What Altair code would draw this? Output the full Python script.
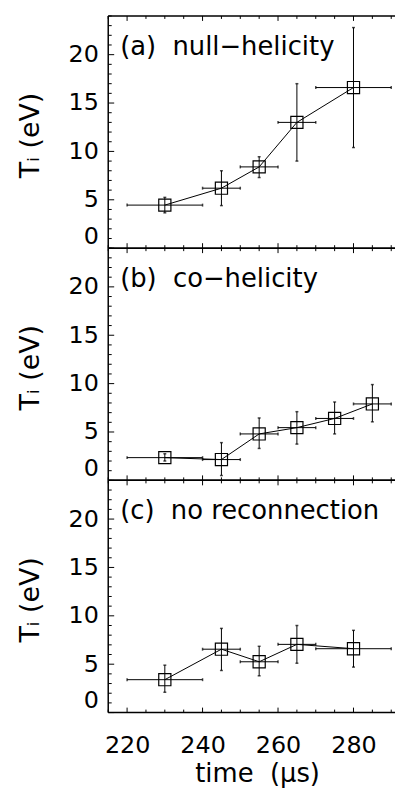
import altair as alt
import pandas as pd

# ---------------- data ----------------
panel_labels = ["(a)\u00a0\u00a0null\u2212helicity", "(b)\u00a0\u00a0co\u2212helicity",
                "(c)\u00a0\u00a0no\u00a0reconnection"]

a_t = [230, 245, 255, 265, 280]
a_T = [4.45, 6.2, 8.4, 13.0, 16.6]
a_lo = [3.65, 4.4, 7.3, 9.0, 10.4]
a_hi = [5.25, 8.0, 9.45, 17.0, 22.8]
a_t0 = [220, 240, 250, 260, 270]
a_t1 = [240, 250, 260, 270, 290]

b_t = [230, 245, 255, 265, 275, 285]
b_T = [2.35, 2.15, 4.8, 5.45, 6.4, 7.9]
b_lo = [2.0, 0.5, 3.3, 3.75, 4.8, 6.05]
b_hi = [2.75, 3.9, 6.45, 7.1, 8.1, 9.9]
b_t0 = [220, 240, 250, 260, 270, 280]
b_t1 = [240, 250, 260, 270, 280, 290]

c_t = [230, 245, 255, 265, 280]
c_T = [3.4, 6.55, 5.25, 7.05, 6.6]
c_lo = [2.1, 4.35, 3.8, 5.1, 4.7]
c_hi = [4.9, 8.7, 6.85, 9.0, 8.5]
c_t0 = [220, 240, 250, 260, 270]
c_t1 = [240, 250, 260, 270, 290]

y_major = [0, 5, 10, 15, 20]
y_minor = [v for v in range(0, 25) if v not in y_major]
x_major = [220, 240, 260, 280]
x_minor = [215, 225, 230, 235, 245, 250, 255, 265, 270, 275, 285, 290]

x_title = "time\u00a0\u00a0(\u03bcs)"
y_title = "T\u1d62\u00a0(eV)"

# ---------------- style ----------------
W, H = 289, 234
XDOM = [215, 291]
YDOM = [0, 24]
FONT = "DejaVu Sans"
BLACK = "black"


def make_panel(t, T, lo, hi, t0, t1, label, bottom):
    df = pd.DataFrame(dict(t=t, T=T, lo=lo, hi=hi, t0=t0, t1=t1))
    xs = alt.Scale(domain=XDOM, nice=False, zero=False)
    ys = alt.Scale(domain=YDOM, nice=False, zero=False)
    if bottom:
        xaxis = alt.Axis(values=x_major, format="d", ticks=False, domain=False, grid=False,
                         labelFontSize=24, labelPadding=21, labelColor=BLACK,
                         title=x_title, titleFontSize=26, titleFontWeight="normal",
                         titleColor=BLACK, titleX=150, titleY=69,
                         titleAlign="center", titleBaseline="alphabetic")
    else:
        xaxis = None
    yaxis = alt.Axis(values=y_major, ticks=False, domain=False, grid=False,
                     labelFontSize=24, labelPadding=10, labelColor=BLACK,
                     labelBaseline={"condition": {"test": "datum.value == 0", "value": "bottom"},
                                    "value": "middle"},
                     title=y_title, titleFontSize=27, titleFontWeight="normal",
                     titleColor=BLACK, titleAngle=270, titleX=-78, titleY=120,
                     titleAlign="center", titleBaseline="middle")

    def X(f):
        return alt.X(f, type="quantitative", scale=xs, axis=xaxis)

    def Y(f):
        return alt.Y(f, type="quantitative", scale=ys, axis=yaxis)

    base = alt.Chart(df)
    line = base.mark_line(color=BLACK, strokeWidth=1).encode(x=X("t"), y=Y("T"))
    xerr = base.mark_rule(color=BLACK, strokeWidth=1).encode(x=X("t0"), x2="t1", y=Y("T"))
    yerr = base.mark_rule(color=BLACK, strokeWidth=1).encode(x=X("t"), y=Y("lo"), y2="hi")
    cap_lo = base.mark_tick(color=BLACK, orient="horizontal", size=3, thickness=1.5).encode(x=X("t"), y=Y("lo"))
    cap_hi = base.mark_tick(color=BLACK, orient="horizontal", size=3, thickness=1.5).encode(x=X("t"), y=Y("hi"))
    cap_l = base.mark_tick(color=BLACK, orient="vertical", size=3, thickness=1.5).encode(x=X("t0"), y=Y("T"))
    cap_r = base.mark_tick(color=BLACK, orient="vertical", size=3, thickness=1.5).encode(x=X("t1"), y=Y("T"))
    pts = base.mark_point(shape="square", filled=False, size=150, color=BLACK,
                          strokeWidth=1.2, opacity=1).encode(x=X("t"), y=Y("T"))

    one = alt.Chart(pd.DataFrame({"d": [0]}))
    border_l = one.mark_rule(color=BLACK, strokeWidth=1.5).encode(
        x=alt.value(0), y=alt.value(0), y2=alt.value(H))
    border_b = one.mark_rule(color=BLACK, strokeWidth=1.5).encode(
        x=alt.value(0), x2=alt.value(W), y=alt.value(H))
    border_t = one.mark_rule(color=BLACK, strokeWidth=1.5).encode(
        x=alt.value(0), x2=alt.value(W), y=alt.value(0))

    ymaj = alt.Chart(pd.DataFrame({"v": y_major})).mark_rule(color=BLACK, strokeWidth=1).encode(
        y=Y("v"), x=alt.value(0), x2=alt.value(6))
    ymin = alt.Chart(pd.DataFrame({"v": y_minor})).mark_rule(color=BLACK, strokeWidth=1).encode(
        y=Y("v"), x=alt.value(0), x2=alt.value(3.5))
    xmaj_b = alt.Chart(pd.DataFrame({"v": x_major})).mark_rule(color=BLACK, strokeWidth=1).encode(
        x=X("v"), y=alt.value(H), y2=alt.value(H - 5))
    xmin_b = alt.Chart(pd.DataFrame({"v": x_minor})).mark_rule(color=BLACK, strokeWidth=1).encode(
        x=X("v"), y=alt.value(H), y2=alt.value(H - 3))
    xmaj_t = alt.Chart(pd.DataFrame({"v": x_major})).mark_rule(color=BLACK, strokeWidth=1).encode(
        x=X("v"), y=alt.value(0), y2=alt.value(5))
    xmin_t = alt.Chart(pd.DataFrame({"v": x_minor})).mark_rule(color=BLACK, strokeWidth=1).encode(
        x=X("v"), y=alt.value(0), y2=alt.value(3))

    txt = alt.Chart(pd.DataFrame({"lab": [label]})).mark_text(
        align="left", baseline="middle", fontSize=26, font=FONT, color=BLACK
    ).encode(text="lab:N", x=alt.value(12), y=alt.value(31))

    return alt.layer(line, xerr, yerr, cap_lo, cap_hi, cap_l, cap_r, pts,
                     ymaj, ymin, xmaj_b, xmin_b, xmaj_t, xmin_t,
                     border_l, border_b, border_t, txt).properties(width=W, height=H)


pa = make_panel(a_t, a_T, a_lo, a_hi, a_t0, a_t1, panel_labels[0], False)
pb = make_panel(b_t, b_T, b_lo, b_hi, b_t0, b_t1, panel_labels[1], False)
pc = make_panel(c_t, c_T, c_lo, c_hi, c_t0, c_t1, panel_labels[2], True)

chart = alt.vconcat(pa, pb, pc, spacing=0, bounds="flush").properties(
    padding={"left": 9, "top": 4, "right": 0, "bottom": 0},
    background="white",
).configure_view(stroke=None).configure_axis(
    labelFont=FONT, titleFont=FONT
).configure_text(font=FONT)

chart.save("out.html", embed_options={"renderer": "svg", "actions": False})
